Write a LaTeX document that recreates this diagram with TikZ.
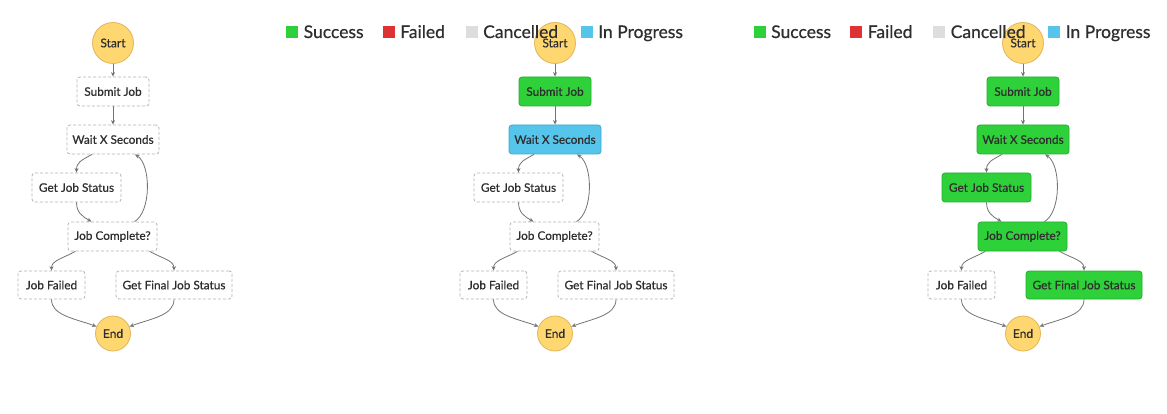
\documentclass[tikz,border=0pt]{standalone}
\usepackage{fontspec}
\setmainfont{Lato}[FakeBold=0.6]
\usetikzlibrary{arrows.meta}
\definecolor{termfill}{HTML}{FFD770}
\definecolor{termdraw}{HTML}{E2B55A}
\definecolor{okfill}{HTML}{2FD13A}
\definecolor{okdraw}{HTML}{26AE30}
\definecolor{runfill}{HTML}{56C5EB}
\definecolor{rundraw}{HTML}{3CA8D0}
\definecolor{failfill}{HTML}{DD3333}
\definecolor{cancfill}{HTML}{DDDDDD}
\definecolor{dashgray}{HTML}{B3B3B3}
\definecolor{arrowgray}{HTML}{737373}
\definecolor{txt}{HTML}{2E2E2E}
\tikzset{
  term/.style={circle, draw=termdraw, fill=termfill, line width=0.8pt, inner sep=0pt,
    text=txt, font=\fontsize{12}{14}\selectfont},
  box/.style={rectangle, rounded corners=3pt, minimum height=29pt, inner sep=0pt,
    text=txt, font=\fontsize{11.8}{14}\selectfont, line width=0.8pt},
  idle/.style={box, draw=dashgray, dash pattern=on 3pt off 2pt, fill=white},
  ok/.style={box, draw=okdraw, fill=okfill},
  run/.style={box, draw=rundraw, fill=runfill},
  flow/.style={draw=arrowgray, line width=0.8pt, -{Stealth[length=4.5pt,width=4pt]}},
  swatch/.style={minimum size=12pt, inner sep=0pt},
  legtext/.style={anchor=base west, inner sep=0pt, text=txt, font=\fontsize{17.5}{20}\selectfont},
}
% #1 prefix, #2 x offset, #3..#8 styles of the six task boxes, #9 drop of the Start label
\newcommand\jobflow[9]{%
\begin{scope}[xshift=#2pt]
  \node[term, minimum size=41pt] (#1start) at (113,43) {\raisebox{-#9pt}{Start}};
  \node[#3, minimum width=72pt] (#1sub) at (113,91.5) {Submit Job};
  \node[#4, minimum width=92pt] (#1wait) at (113,139.5) {Wait X Seconds};
  \node[#5, minimum width=89pt] (#1gjs) at (76.5,187.5) {Get Job Status};
  \node[#6, minimum width=89pt] (#1jc) at (112.5,236.5) {Job Complete?};
  \node[#7, minimum width=67pt, minimum height=28pt] (#1jf) at (51.5,285) {Job Failed};
  \node[#8, minimum width=116pt, minimum height=28pt] (#1gf) at (174,285) {Get Final Job Status};
  \node[term, minimum size=35pt] (#1end) at (113,333.5) {End};
  \draw[flow] (#1start) -- (#1sub);
  \draw[flow] (#1sub) -- (#1wait);
  \draw[flow] ([xshift=-21pt]#1wait.south) .. controls +(-11,6) and +(0,-10) .. (#1gjs.north);
  \draw[flow] (#1gjs.south) .. controls +(0,10) and +(-9,-5) .. ([xshift=-21pt]#1jc.north);
  \draw[flow] ([xshift=22pt]#1jc.north) .. controls +(17,-10) and +(16,10) .. ([xshift=22pt]#1wait.south);
  \draw[flow] ([xshift=-37pt]#1jc.south) .. controls +(-13,7) and +(0,-10) .. (#1jf.north);
  \draw[flow] ([xshift=37pt]#1jc.south) .. controls +(13,7) and +(0,-10) .. (#1gf.north);
  \draw[flow] (#1jf.south) .. controls +(0,16) and +(-22,-8) .. (#1end.157);
  \draw[flow] (#1gf.south) .. controls +(0,16) and +(22,-8) .. (#1end.23);
\end{scope}}
% #1 prefix, #2 x offset
\newcommand\legendrow[2]{%
\begin{scope}[xshift=#2pt]
  \node[swatch, fill=okfill] (#1sq1) at (292,32) {};
  \node[legtext] (#1t1) at (303.5,38) {Success};
  \node[swatch, fill=failfill] (#1sq2) at (388.5,32) {};
  \node[legtext] (#1t2) at (400,38) {Failed};
  \node[swatch, fill=cancfill] (#1sq3) at (471.5,32) {};
  \node[legtext] (#1t3) at (483,38) {Cancelled};
  \node[swatch, fill=runfill] (#1sq4) at (586.5,32) {};
  \node[legtext] (#1t4) at (598,38) {In Progress};
\end{scope}}
\begin{document}
\begin{tikzpicture}[x=1pt, y=-1pt]
  \useasboundingbox[fill=white] (0,0) rectangle (1167,414);
  \jobflow{L}{0}{idle}{idle}{idle}{idle}{idle}{idle}{0}
  \jobflow{M}{442}{ok}{run}{idle}{idle}{idle}{idle}{3}
  \jobflow{R}{910}{ok}{ok}{ok}{ok}{idle}{ok}{3}
  \legendrow{A}{0}
  \legendrow{B}{467.5}
\end{tikzpicture}
\end{document}
